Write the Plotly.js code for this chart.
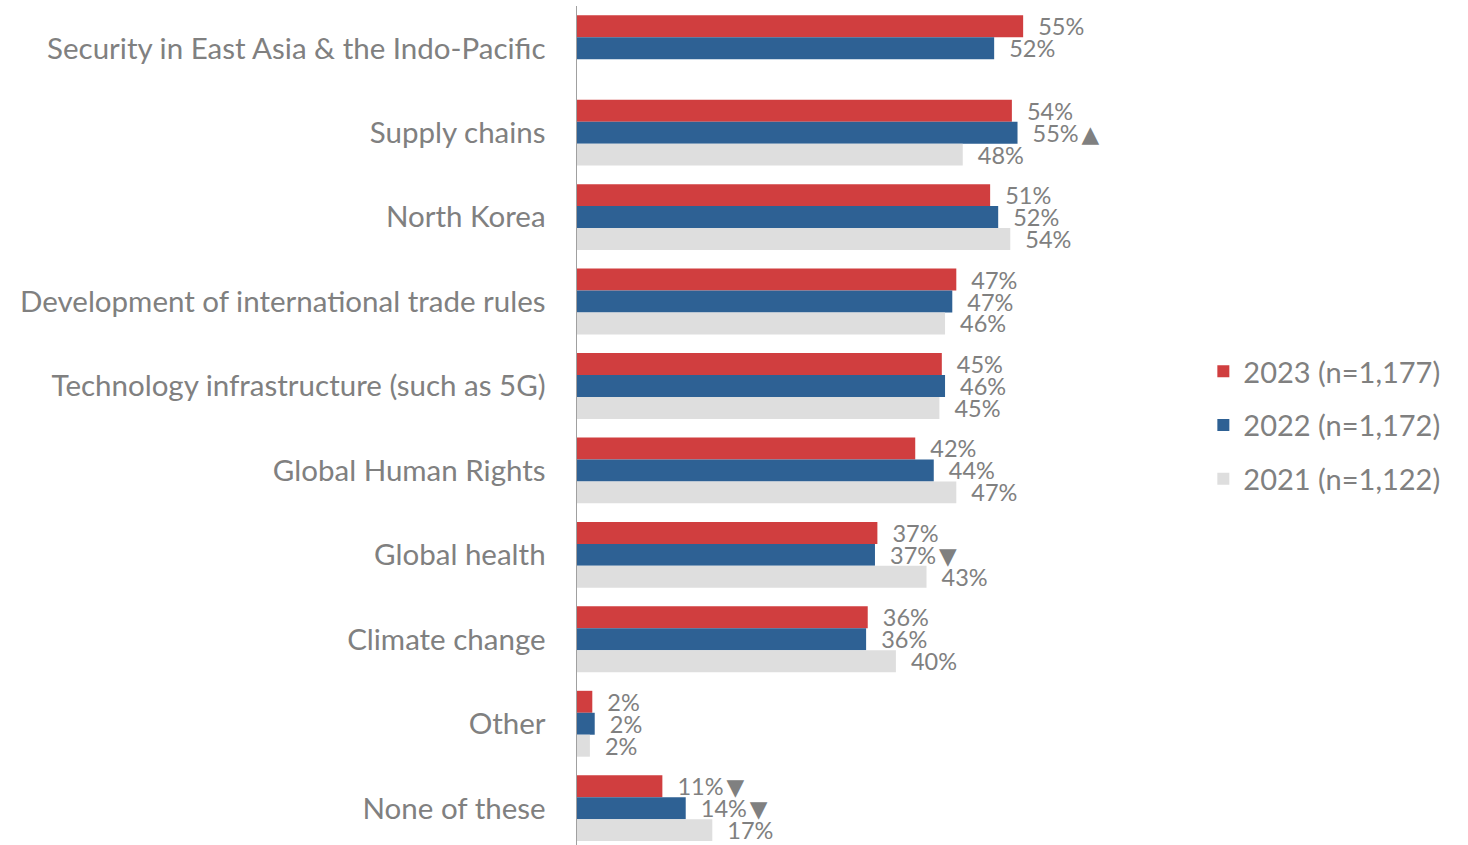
<!DOCTYPE html>
<html><head><meta charset="utf-8">
<script src="https://cdn.plot.ly/plotly-3.0.1.min.js"></script>
<style>html,body{margin:0;padding:0;background:#fff}#chart{width:1468px;height:845px}</style>
</head><body><div id="chart"></div>
<script>
const categories = [
  'Security in East Asia & the Indo-Pacific',
  'Supply chains',
  'North Korea',
  'Development of international trade rules',
  'Technology infrastructure (such as 5G)',
  'Global Human Rights',
  'Global health',
  'Climate change',
  'Other',
  'None of these'
];
const seriesNames = ['2023 (n=1,177)', '2022 (n=1,172)', '2021 (n=1,122)'];
const values2023 = [55.4, 54.0, 51.3, 47.1, 45.3, 42.0, 37.3, 36.1, 1.9, 10.6];
const values2022 = [51.8, 54.7, 52.3, 46.6, 45.7, 44.3, 37.0, 35.9, 2.2, 13.5];
const values2021 = [null, 47.9, 53.8, 45.7, 45.0, 47.1, 43.4, 39.6, 1.6, 16.8];
const sig2023 = ['', '', '', '', '', '', '', '', '', '▼'];
const sig2022 = ['', '▲', '', '', '', '', '▼', '', '', '▼'];
const sig2021 = ['', '', '', '', '', '', '', '', '', ''];

const colors = ['#D03E3F', '#2E6194', '#DEDEDE'];
const FONT = 'Lato, "Open Sans", sans-serif';
const GREY = '#808080';
const PAD = '\u00a0\u00a0';

function labels(vals, sig) {
  return vals.map((v, i) => v == null ? '' : PAD + Math.round(v) + '%' +
    (sig[i] ? '\u2009<span style="font-family:\'DejaVu Sans\';font-size:23px">' + sig[i] + '</span>' : ''));
}

const allVals = [values2023, values2022, values2021];
const allSig = [sig2023, sig2022, sig2021];
const traces = allVals.map((vals, k) => ({
  type: 'bar',
  orientation: 'h',
  name: seriesNames[k],
  legendgroup: 'g' + k,
  x: vals,
  y: categories,
  text: labels(vals, allSig[k]),
  textposition: 'outside',
  texttemplate: '%{text}',
  constraintext: 'none',
  cliponaxis: false,
  textfont: {family: FONT, size: 23.5, color: GREY},
  marker: {color: colors[k]},
  hoverinfo: 'x+y+name'
}));

const layout = {
  width: 1468, height: 845,
  margin: {l: 577, r: 287, t: 6, b: 0, pad: 0},
  paper_bgcolor: '#fff', plot_bgcolor: '#fff',
  barmode: 'group', bargap: 0.22, bargroupgap: 0,
  font: {family: FONT, color: GREY},
  xaxis: {range: [0, 75], visible: false, fixedrange: true},
  yaxis: {
    type: 'category', autorange: false, range: [9.436, -0.5],
    showline: true, linecolor: '#A0A0A0', linewidth: 1.5,
    showgrid: false, zeroline: false, ticks: '',
    ticklabelstandoff: 24,
    tickfont: {family: FONT, size: 29.5, color: GREY},
    fixedrange: true
  },
  showlegend: true,
  legend: {
    x: 1.037, xanchor: 'left', y: 0.5, yanchor: 'middle',
    traceorder: 'grouped', tracegroupgap: 13,
    font: {family: FONT, size: 29, color: GREY},
    bgcolor: 'rgba(0,0,0,0)'
  }
};
Plotly.newPlot('chart', traces, layout, {displayModeBar: false, staticPlot: true});
</script>
</body></html>
